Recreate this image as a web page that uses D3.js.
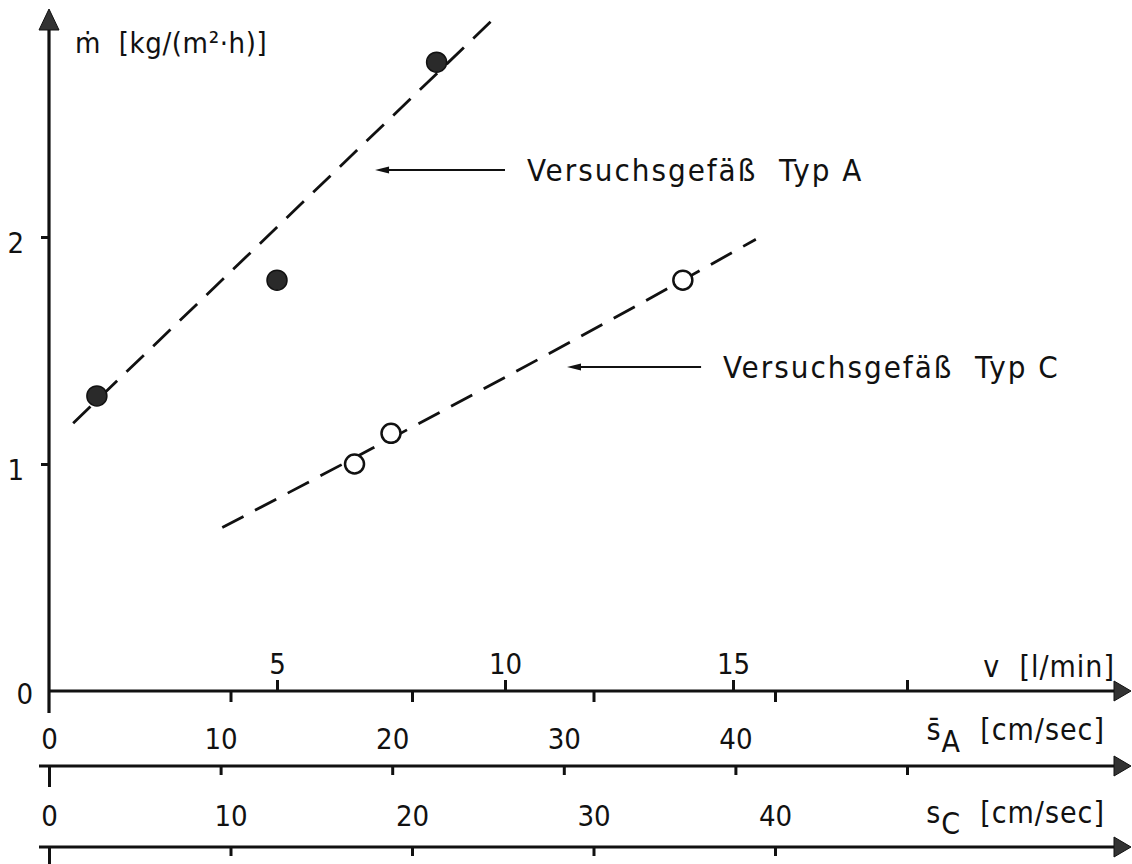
<!DOCTYPE html>
<html>
<head>
<meta charset="utf-8">
<script src="https://cdn.jsdelivr.net/npm/d3@7"></script>
<style>
  body { margin: 0; background: #fff; }
  text { font-family: "DejaVu Sans Condensed", "DejaVu Sans", sans-serif; fill: #111; }
</style>
</head>
<body>
<div id="chart"></div>
<script>
// werte
const mTicks = [1, 2];
const vTicks = [5, 10, 15];
const sATicks = [0, 10, 20, 30, 40];
const sCTicks = [0, 10, 20, 30, 40];
const sAEnde = 50;

// Versuchsgefäß Typ A (gefuellte kreise), v in l/min, m in kg/(m2 h)
const typA_v = [1.05, 5.0, 8.5];
const typA_m = [1.30, 1.81, 2.77];
// Versuchsgefäß Typ C (offene kreise)
const typC_v = [6.7, 7.5, 13.9];
const typC_m = [1.00, 1.135, 1.81];

// gestrichelte ausgleichslinien
const linieA_v = [0.53, 9.85];
const linieA_m = [1.18, 2.98];
const linieC_v = [3.8, 7.1, 13.9, 15.5];
const linieC_m = [0.72, 1.07, 1.81, 1.99];

const width = 1132, height = 864;
const yV = 691, ySA = 766, ySC = 847;
const x0 = 49;

const svg = d3.select("#chart").append("svg")
    .attr("width", width)
    .attr("height", height);

const x = d3.scaleLinear().domain([0, 20]).range([x0, 961]);
const sA = d3.scaleLinear().domain([0, 50]).range([x0, 907]);
const sC = d3.scaleLinear().domain([0, 40]).range([x0, 775]);
const y = d3.scaleLinear().domain([0, 2]).range([yV, 237]);

const schwarz = "#111";
const fs = 29;

// y-achse
svg.append("line")
    .attr("x1", x0).attr("x2", x0)
    .attr("y1", 713).attr("y2", 26)
    .attr("stroke", schwarz).attr("stroke-width", 3.2);
svg.append("path")
    .attr("d", `M${x0},9 L${x0 - 10},30 L${x0 + 10},30 Z`)
    .attr("fill", "#333").attr("stroke", schwarz).attr("stroke-width", 1);

const yAxis = svg.append("g")
    .attr("transform", `translate(${x0},0)`)
    .call(d3.axisLeft(y).tickValues(mTicks).tickSize(8).tickPadding(17).tickFormat(d3.format("d")));
yAxis.select(".domain").remove();
yAxis.selectAll(".tick line").attr("stroke", schwarz).attr("stroke-width", 3);
yAxis.selectAll(".tick text").attr("font-size", fs).attr("dy", "0.52em")
    .attr("font-family", null).attr("fill", "#111");

const yNull = svg.append("g")
    .attr("transform", `translate(${x0},0)`)
    .call(d3.axisLeft(y).tickValues([0]).tickSize(0).tickPadding(16).tickFormat(d3.format("d")));
yNull.select(".domain").remove();
yNull.selectAll(".tick text").attr("font-size", fs).attr("dy", "0.42em")
    .attr("font-family", null).attr("fill", "#111");

svg.append("text")
    .attr("x", 75).attr("y", 53)
    .attr("font-size", 29)
    .attr("letter-spacing", 0.6)
    .style("white-space", "pre")
    .text("ṁ  [kg/(m²·h)]");

// waagrechte achsen mit pfeil
function achse(yPos, xStart) {
    svg.append("line")
        .attr("x1", xStart).attr("x2", 1118)
        .attr("y1", yPos).attr("y2", yPos)
        .attr("stroke", schwarz).attr("stroke-width", 3.2);
    svg.append("path")
        .attr("d", `M1131,${yPos} L1114,${yPos - 10} L1114,${yPos + 10} Z`)
        .attr("fill", "#333").attr("stroke", schwarz).attr("stroke-width", 1);
}
achse(yV, x0);
achse(ySA, 39);
achse(ySC, 39);

function stil(g) {
    g.select(".domain").remove();
    g.selectAll(".tick line").attr("stroke", schwarz).attr("stroke-width", 3);
    g.selectAll(".tick text").attr("font-size", fs).attr("font-family", null).attr("fill", "#111");
}

// v-achse: beschriftung oben, striche unten bei sC-werten
const vAxis = svg.append("g").attr("transform", `translate(0,${yV})`)
    .call(d3.axisTop(x).tickValues(vTicks).tickSize(11).tickPadding(6));
stil(vAxis);
const vEnde = svg.append("g").attr("transform", `translate(0,${yV})`)
    .call(d3.axisTop(sA).tickValues([sAEnde]).tickSize(11).tickFormat(""));
stil(vEnde);
const vUnten = svg.append("g").attr("transform", `translate(0,${yV})`)
    .call(d3.axisBottom(sC).tickValues(sCTicks.slice(1)).tickSize(11).tickFormat(""));
stil(vUnten);

svg.append("text")
    .attr("x", 1115).attr("y", 677)
    .attr("text-anchor", "end")
    .attr("font-size", 30)
    .attr("letter-spacing", 1)
    .style("white-space", "pre")
    .text("v  [l/min]");

// mittlere geschwindigkeit Typ A
const sAAxis = svg.append("g").attr("transform", `translate(0,${ySA})`)
    .call(d3.axisTop(sA).tickValues(sATicks.concat([sAEnde])).tickSize(9).tickPadding(8)
        .tickFormat(d => d === sAEnde ? "" : d));
stil(sAAxis);
sAAxis.selectAll(".tick line").attr("y2", d => d === 0 ? 21 : 9);

const tA = svg.append("text")
    .attr("x", 1105).attr("y", 740)
    .attr("text-anchor", "end")
    .attr("font-size", 30)
    .attr("letter-spacing", 1)
    .style("white-space", "pre");
tA.append("tspan").text("s\u0304");
tA.append("tspan").attr("dy", 12).text("A");
tA.append("tspan").attr("dy", -12).text("  [cm/sec]");

// geschwindigkeit Typ C
const sCAxis = svg.append("g").attr("transform", `translate(0,${ySC})`)
    .call(d3.axisTop(sC).tickValues(sCTicks).tickSize(9).tickPadding(12));
stil(sCAxis);
sCAxis.selectAll(".tick line").attr("y2", d => d === 0 ? 20 : 9);

const tC = svg.append("text")
    .attr("x", 1105).attr("y", 823)
    .attr("text-anchor", "end")
    .attr("font-size", 30)
    .attr("letter-spacing", 1)
    .style("white-space", "pre");
tC.append("tspan").text("s");
tC.append("tspan").attr("dy", 11).text("C");
tC.append("tspan").attr("dy", -11).text("  [cm/sec]");

// ausgleichslinien
const linie = d3.line()
    .x(d => x(d[0]))
    .y(d => y(d[1]))
    .curve(d3.curveMonotoneX);

svg.append("path")
    .datum(d3.zip(linieA_v, linieA_m))
    .attr("d", linie)
    .attr("fill", "none").attr("stroke", schwarz)
    .attr("stroke-width", 2.8).attr("stroke-dasharray", "24 13");

svg.append("path")
    .datum(d3.zip(linieC_v, linieC_m))
    .attr("d", linie)
    .attr("fill", "none").attr("stroke", schwarz)
    .attr("stroke-width", 2.8).attr("stroke-dasharray", "24 13");

// messpunkte
svg.append("g").selectAll("circle")
    .data(d3.zip(typA_v, typA_m))
    .enter().append("circle")
    .attr("cx", d => x(d[0]))
    .attr("cy", d => y(d[1]))
    .attr("r", 10)
    .attr("fill", "#2a2a2a")
    .attr("stroke", schwarz).attr("stroke-width", 1.5);

svg.append("g").selectAll("circle")
    .data(d3.zip(typC_v, typC_m))
    .enter().append("circle")
    .attr("cx", d => x(d[0]))
    .attr("cy", d => y(d[1]))
    .attr("r", 9.5)
    .attr("fill", "#fff")
    .attr("stroke", schwarz).attr("stroke-width", 2.5);

// hinweispfeile mit beschriftung
const hinweise = [
    { von: 10.0, bis: 7.15, m: 2.295, textV: 10.48, text: "Versuchsgefäß  Typ A" },
    { von: 14.3, bis: 11.36, m: 1.427, textV: 14.78, text: "Versuchsgefäß  Typ C" }
];

hinweise.forEach(h => {
    const yy = y(h.m);
    svg.append("line")
        .attr("x1", x(h.von)).attr("x2", x(h.bis) + 8)
        .attr("y1", yy).attr("y2", yy)
        .attr("stroke", schwarz).attr("stroke-width", 2);
    svg.append("path")
        .attr("d", `M${x(h.bis)},${yy} L${x(h.bis) + 14},${yy - 3.5} L${x(h.bis) + 14},${yy + 3.5} Z`)
        .attr("fill", schwarz);
    svg.append("text")
        .attr("x", x(h.textV)).attr("y", yy + 11)
        .attr("font-size", 31)
        .attr("letter-spacing", 2)
        .style("white-space", "pre")
        .text(h.text);
});
</script>
</body>
</html>
